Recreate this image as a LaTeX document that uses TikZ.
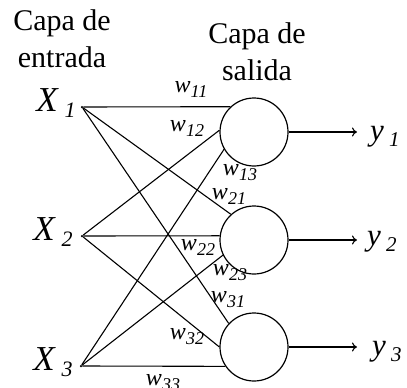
\documentclass[tikz,border=0pt]{standalone}
\usepackage{fontspec}
\setmainfont{Liberation Serif}
\usetikzlibrary{arrows.meta}
\newcommand\Xl[1]{\fontsize{35}{35}\selectfont\textit{X}\,\raisebox{-6pt}{\fontsize{22}{22}\selectfont\textit{#1}}}
\newcommand\wl[1]{\fontsize{24}{24}\selectfont\textit{w}\raisebox{-5pt}{\fontsize{18}{18}\selectfont\textit{#1}}}
\newcommand\yl[1]{\fontsize{31}{31}\selectfont\textit{y}\,\raisebox{-6pt}{\fontsize{21}{21}\selectfont\textit{#1}}}
\begin{document}
\begin{tikzpicture}[x=1pt,y=-1pt,
  neuron/.style={draw,circle,line width=1.2pt,minimum size=68pt,inner sep=0pt},
  inp/.style={circle,fill,inner sep=0pt,minimum size=2.5pt},
  conn/.style={line width=1.1pt},
  outarr/.style={line width=1.1pt,-{To[length=5pt,width=9pt]}},
  heading/.style={align=center,inner sep=0pt,font=\fontsize{30}{37}\selectfont},
  lbl/.style={inner sep=0pt}]
\useasboundingbox (0,0) rectangle (407,388);
\node[heading,anchor=north] (hin) at (62,9) {Capa de\\entrada};
\node[heading,anchor=north] (hout) at (257,22) {Capa de\\salida};
\node[inp] (x1) at (82,107) {};
\node[inp] (x2) at (82,236) {};
\node[inp] (x3) at (81,366) {};
\node[lbl] (lx1) at (56,103) {\Xl{1}};
\node[lbl] (lx2) at (53,232) {\Xl{2}};
\node[lbl] (lx3) at (53,362) {\Xl{3}};
\node[neuron] (n1) at (254,132) {};
\node[neuron] (n2) at (254,240) {};
\node[neuron] (n3) at (254,347) {};
\draw[conn] (x1) -- (n1.133);
\draw[conn] (x2) -- (n1.177);
\draw[conn] (x3) -- (n1.210);
\draw[conn] (x1) -- (n2.132);
\draw[conn] (x2) -- (n2.173);
\draw[conn] (x3) -- (n2.206);
\draw[conn] (x1) -- (n3.137);
\draw[conn] (x2) -- (n3.180);
\draw[conn] (x3) -- (n3.214);
\coordinate (o1) at (357,132);
\coordinate (o2) at (357,240);
\coordinate (o3) at (357,347);
\draw[outarr] (n1.east) -- (o1);
\draw[outarr] (n2.east) -- (o2);
\draw[outarr] (n3.east) -- (o3);
\node[lbl,anchor=west] (y1) at (370,137) {\yl{1}};
\node[lbl,anchor=west] (y2) at (367,242) {\yl{2}};
\node[lbl,anchor=west] (y3) at (372,352) {\yl{3}};
\node[lbl] (w11) at (191,89) {\wl{11}};
\node[lbl] (w12) at (187,128) {\wl{12}};
\node[lbl] (w13) at (240,173) {\wl{13}};
\node[lbl] (w21) at (229,196) {\wl{21}};
\node[lbl] (w22) at (198,247) {\wl{22}};
\node[lbl] (w23) at (230,273) {\wl{23}};
\node[lbl] (w31) at (228,300) {\wl{31}};
\node[lbl] (w32) at (187,337) {\wl{32}};
\node[lbl] (w33) at (163,383) {\wl{33}};
\end{tikzpicture}
\end{document}
